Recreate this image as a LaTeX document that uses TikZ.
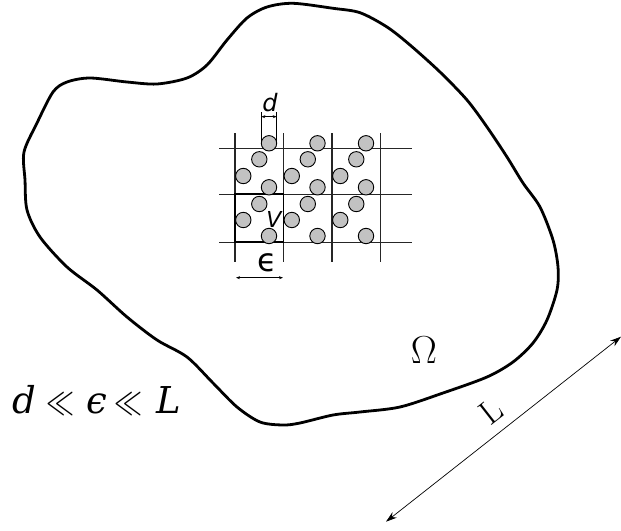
\RequirePackage{fix-cm}
\documentclass[tikz,border=0pt]{standalone}
\usepackage{fontspec}
\newfontfamily\dsans{DejaVu Sans}
\newfontfamily\dsansit{DejaVu Sans Oblique}
\newfontfamily\dserif{DejaVu Serif}
\usetikzlibrary{arrows.meta}
\tikzset{
  blob/.style={line width=2.8pt, line join=round},
  gridline/.style={line width=1.1pt, black!85},
  particle/.style={draw=black, line width=0.9pt, fill=black!24},
  dimline/.style={line width=0.6pt, {Stealth[length=4pt,width=3pt]}-{Stealth[length=4pt,width=3pt]}},
  extline/.style={line width=0.6pt},
  bigarrow/.style={line width=0.7pt, {Stealth[length=11pt,width=7pt]}-{Stealth[length=11pt,width=7pt]}},
  lbl/.style={inner sep=0pt},
  rel/.style={inner sep=0pt, anchor=base west, font=\fontsize{37}{37}\selectfont},
  relop/.style={inner sep=0pt, anchor=base west, yscale=1.35, font=\fontsize{28}{28}\selectfont}
}
\begin{document}
\begin{tikzpicture}[x=1pt,y=-1pt]
\useasboundingbox (0,0) rectangle (621,530);
% domain boundary
\draw[blob] plot[smooth cycle, tension=0.5] coordinates {
(24,152) (37,123) (53,92) (67,82) (90,78) (127,82) (157,84) (187,78) (207,65)
(227,40) (247,18) (267,7) (293,3.3) (333,8.3) (360,12.7) (387,27) (410,45)
(440,72) (467,100) (487,127) (507,157) (523,183) (540,207) (553,240) (558,267)
(557,290) (547,320) (533,343) (513,362) (487,377) (443,393) (400,407) (360,412)
(333,415) (300,423) (283,425) (260,422) (237,407) (213,383) (187,357) (157,340)
(127,317) (97,290) (67,267) (40,237) (27,210) (25,180)};
% grid
\foreach \yy in {148.3,194.3,242.3} \draw[gridline] (219,\yy) -- (412,\yy);
\foreach \xx in {235,283.5,332,380.5} \draw[gridline] (\xx,133.3) -- (\xx,261.7);
\draw[line width=1.8pt] (235,194.3) rectangle (283.5,242.3);
% particles
\foreach \dx in {0,48.5,97}{
  \foreach \px/\py in {269/143.3,259.3/159.3,243.3/176,269/187.3,259.3/204,243.3/220,269/236}{
    \draw[particle] (\px+\dx,\py) circle (7.7);
  }
}
% d dimension
\coordinate (d1) at (261.3,116.7);
\coordinate (d2) at (276.7,116.7);
\draw[extline] (261.3,112) -- (261.3,143.3);
\draw[extline] (276.7,112) -- (276.7,143.3);
\draw[dimline] (d1) -- (d2);
\node[lbl] (dlab) at (270,103) {\fontsize{24}{24}\selectfont\dsansit d};
% V label
\node[lbl] (vlab) at (274,219.5) {\fontsize{22}{22}\selectfont\dsansit V};
% epsilon dimension
\node[lbl] (elab) at (267,263) {\fontsize{32}{32}\selectfont\dsans ϵ};
\coordinate (e1) at (236,277.7);
\coordinate (e2) at (283,277.7);
\draw[dimline] (e1) -- (e2);
% Omega
\node[lbl] (om) at (424,350) {\fontsize{39}{39}\selectfont$\Omega$};
% L arrow
\coordinate (la) at (386,521.7);
\coordinate (lb) at (621,336.7);
\draw[bigarrow] (la) -- (lb);
\node[lbl, rotate=38] (llab) at (491,411) {\fontsize{34}{34}\selectfont L};
% relation
\node[rel] (r1) at (12,413) {\dserif\itshape d};
\node[relop] (r2) at (46,413) {$\ll$};
\node[rel] (r3) at (86,413) {\dserif\itshape ϵ};
\node[relop] (r4) at (114,413) {$\ll$};
\node[rel] (r5) at (156,413) {\dserif\itshape L};
\end{tikzpicture}
\end{document}
